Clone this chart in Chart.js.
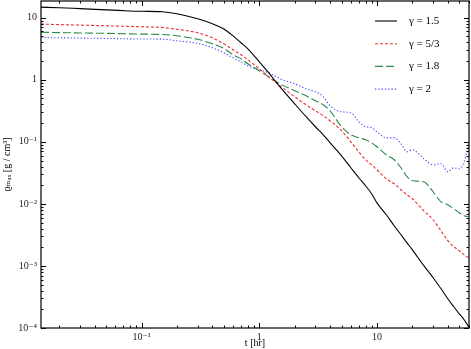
<!DOCTYPE html>
<html>
<head>
<meta charset="utf-8">
<script src="https://cdn.jsdelivr.net/npm/chart.js@4/dist/chart.umd.min.js"></script>
<style>
html, body { margin: 0; padding: 0; background: #fff; }
#wrap { width: 471px; height: 349px; }
</style>
</head>
<body>
<div id="wrap"><canvas id="graf" width="471" height="349"></canvas></div>
<script>
// time in hours
const tHours = [0.014, 0.02, 0.03, 0.05, 0.07, 0.1, 0.15, 0.2, 0.3, 0.4, 0.5, 0.6, 0.7, 0.8,
    1, 1.2, 1.5, 2, 2.5, 3, 3.5, 4, 5, 6, 7, 8, 9, 10, 12, 14, 16, 18, 20, 25, 30, 35, 40, 45, 50, 55, 60];

// max density [g/cm^3] for each gamma
const rhoGamma15 = [14.8, 14.5, 14.0, 13.4, 13.0, 12.7, 12.5, 11.6, 9.6, 8.0, 6.6, 5.1, 3.95, 3.16,
    1.95, 1.30, 0.77, 0.41, 0.254, 0.175, 0.130, 0.0966, 0.0596, 0.0382, 0.0264, 0.0196, 0.0146, 0.0104,
    6.68e-3, 4.44e-3, 3.18e-3, 2.36e-3, 1.82e-3, 1.01e-3, 6.45e-4, 4.29e-4, 2.96e-4, 2.20e-4, 1.69e-4, 1.36e-4, 1.05e-4];
const rhoGamma53 = [7.90, 7.75, 7.60, 7.41, 7.27, 7.14, 6.96, 6.51, 5.72, 4.75, 3.80, 3.04, 2.53, 2.10,
    1.50, 1.12, 0.80, 0.532, 0.395, 0.316, 0.263, 0.218, 0.151, 0.100, 0.0692, 0.0514, 0.0427, 0.0355,
    0.0254, 0.0211, 0.0169, 0.0140, 0.0121, 7.75e-3, 5.55e-3, 3.69e-3, 2.55e-3, 2.04e-3, 1.76e-3, 1.51e-3, 1.35e-3];
const rhoGamma18 = [5.83, 5.76, 5.68, 5.60, 5.51, 5.45, 5.37, 5.12, 4.49, 3.80, 3.22, 2.53, 2.18, 1.81,
    1.40, 1.12, 0.862, 0.665, 0.552, 0.459, 0.395, 0.316, 0.175, 0.130, 0.116, 0.108, 0.0966, 0.0832,
    0.0619, 0.0514, 0.0382, 0.0274, 0.0236, 0.0227, 0.0157, 0.0108, 9.68e-3, 8.34e-3, 7.19e-3, 6.44e-3, 6.20e-3];
const rhoGamma2 = [4.80, 4.75, 4.70, 4.63, 4.58, 4.54, 4.51, 4.25, 3.87, 3.28, 2.72, 2.26, 1.95, 1.68,
    1.45, 1.30, 1.04, 0.862, 0.716, 0.641, 0.532, 0.381, 0.305, 0.294, 0.211, 0.175, 0.169, 0.145,
    0.116, 0.116, 0.0931, 0.0692, 0.0745, 0.0533, 0.0427, 0.0443, 0.0330, 0.0382, 0.0368, 0.0477, 0.0897];

const seriesNames = ['γ = 1.5', 'γ = 5/3', 'γ = 1.8', 'γ = 2'];

const xTickValues = [0.1, 1, 10];
const xTickLabels = ['10⁻¹', '1', '10'];
const yTickValues = [1e-4, 1e-3, 1e-2, 1e-1, 1, 10];
const yTickLabels = ['10⁻⁴', '10⁻³', '10⁻²', '10⁻¹', '1', '10'];

const serif = '"Liberation Serif", "DejaVu Serif", serif';

function pts(ys) {
    return tHours.map((t, i) => ({ x: t, y: ys[i] }));
}

const styles = [
    { color: '#000000', dash: [] },
    { color: '#ee3030', dash: [3, 2] },
    { color: '#2a8a4a', dash: [8, 3] },
    { color: '#4a4aff', dash: [1.3, 2] }
];

const allSeries = [rhoGamma15, rhoGamma53, rhoGamma18, rhoGamma2];

// frame + inward ticks on all four sides, legend inside top right
const frameTicks = {
    id: 'frameTicks',
    afterDatasetsDraw(chart) {
        const { ctx, chartArea: a, scales: { x, y } } = chart;
        ctx.save();
        ctx.strokeStyle = '#000';
        ctx.lineWidth = 1.2;
        ctx.strokeRect(a.left, a.top, a.right - a.left, a.bottom - a.top);
        ctx.lineWidth = 1;
        ctx.beginPath();
        for (let d = 0.01; d < 100; d *= 10) {
            for (let m = 1; m <= 9; m++) {
                const v = d * m;
                if (v < x.min || v > x.max) continue;
                const px = Math.round(x.getPixelForValue(v)) + 0.5;
                const len = m == 1 ? 5 : 2.5;
                ctx.moveTo(px, a.bottom); ctx.lineTo(px, a.bottom - len);
                ctx.moveTo(px, a.top); ctx.lineTo(px, a.top + len);
            }
        }
        for (let d = 1e-4; d < 100; d *= 10) {
            for (let m = 1; m <= 9; m++) {
                const v = d * m;
                if (v < y.min || v > y.max) continue;
                const py = Math.round(y.getPixelForValue(v)) + 0.5;
                const len = m == 1 ? 5 : 2.5;
                ctx.moveTo(a.left, py); ctx.lineTo(a.left + len, py);
                ctx.moveTo(a.right, py); ctx.lineTo(a.right - len, py);
            }
        }
        ctx.stroke();
        ctx.restore();
    },
    afterDraw(chart) {
        const { ctx, chartArea: a } = chart;
        ctx.save();
        ctx.font = '11px ' + serif;
        ctx.textBaseline = 'middle';
        ctx.fillStyle = '#000';
        chart.data.datasets.forEach((ds, i) => {
            const ly = a.top + 20 + i * 22.7;
            ctx.strokeStyle = ds.borderColor;
            ctx.lineWidth = ds.borderWidth;
            ctx.setLineDash(ds.borderDash);
            ctx.beginPath();
            ctx.moveTo(a.right - 94, ly);
            ctx.lineTo(a.right - 72, ly);
            ctx.stroke();
            ctx.fillText(ds.label, a.right - 60, ly);
        });
        ctx.restore();
    }
};

new Chart('graf', {
    type: 'line',
    data: {
        datasets: allSeries.map((s, i) => ({
            label: seriesNames[i],
            data: pts(s),
            borderColor: styles[i].color,
            borderDash: styles[i].dash,
            borderWidth: 1.1,
            pointRadius: 0,
            fill: false,
            cubicInterpolationMode: 'monotone'
        }))
    },
    options: {
        responsive: false,
        animation: false,
        devicePixelRatio: 1,
        layout: { padding: { top: 1, right: 2, left: 0, bottom: 0 } },
        plugins: { legend: { display: false }, tooltip: { enabled: false } },
        scales: {
            x: {
                type: 'logarithmic',
                min: 0.014,
                max: 60.5,
                afterFit: s => { s.height = 21; s.paddingLeft = 0; s.paddingRight = 0; },
                afterBuildTicks: s => { s.ticks = xTickValues.map(v => ({ value: v })); },
                grid: { display: false, drawTicks: false },
                border: { display: false },
                ticks: {
                    autoSkip: false, maxRotation: 0, padding: 3,
                    color: '#222', font: { family: serif, size: 10 },
                    callback: v => xTickLabels[xTickValues.indexOf(v)]
                },
                title: {
                    display: true, text: 't [hr]', color: '#000',
                    font: { family: serif, size: 10 }, padding: { top: 0, bottom: 0 }
                }
            },
            y: {
                type: 'logarithmic',
                min: 1e-4,
                max: 18.6,
                afterFit: s => { s.width = 41; s.paddingTop = 0; s.paddingBottom = 0; },
                afterBuildTicks: s => { s.ticks = yTickValues.map(v => ({ value: v })); },
                grid: { display: false, drawTicks: false },
                border: { display: false },
                ticks: {
                    autoSkip: false, padding: 4,
                    color: '#222', font: { family: serif, size: 10 },
                    callback: v => yTickLabels[yTickValues.indexOf(v)]
                },
                title: {
                    display: true, text: 'ϱₘₐₓ [g / cm³]', color: '#000',
                    font: { family: serif, size: 10 }, padding: { top: 1, bottom: 0 }
                }
            }
        }
    },
    plugins: [frameTicks]
});
</script>
</body>
</html>
